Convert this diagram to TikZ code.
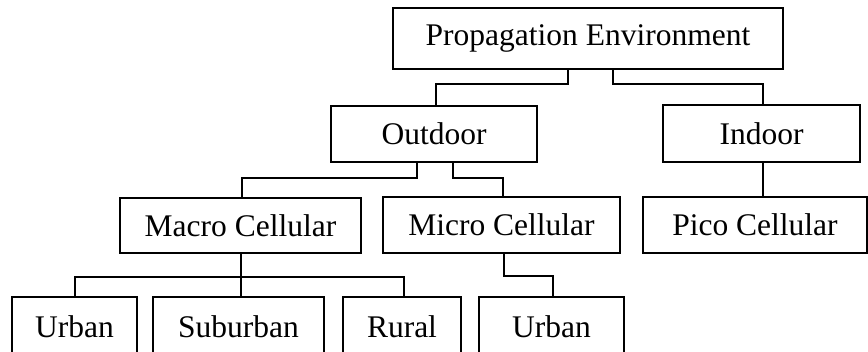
\documentclass[tikz,border=0pt]{standalone}
\usepackage{fontspec}
\setmainfont{Liberation Serif}
\begin{document}
\begin{tikzpicture}[x=1pt,y=-1pt,
  box/.style={draw, line width=1.7pt, inner sep=0pt, font=\fontsize{31.5}{36}\selectfont},
  link/.style={line width=1.6pt}]
\clip (0,0) rectangle (868,351);
% level 0
\node[box, minimum width=390, minimum height=61] (top) at (588,38.5) {Propagation Environment};
% level 1
\node[box, minimum width=206, minimum height=56] (out) at (434,134) {Outdoor};
\node[box, minimum width=197, minimum height=57] (in) at (761.5,133.5) {Indoor};
% level 2
\node[box, minimum width=241, minimum height=55] (macro) at (240.5,225.5) {Macro Cellular};
\node[box, minimum width=237, minimum height=56] (micro) at (501.5,225) {Micro Cellular};
\node[box, minimum width=224, minimum height=56] (pico) at (755,225) {Pico Cellular};
% level 3
\node[box, minimum width=125, minimum height=60] (urbA) at (74.5,327) {Urban};
\node[box, minimum width=171, minimum height=60] (sub) at (238.5,327) {Suburban};
\node[box, minimum width=118, minimum height=60] (rur) at (402,327) {Rural};
\node[box, minimum width=145, minimum height=60] (urbB) at (551.5,327) {Urban};
% connectors
\draw[link] ([xshift=-20pt]top.south) -- ++(0,14) -| ([xshift=2pt]out.north);
\draw[link] ([xshift=25pt]top.south) -- ++(0,14) -| ([xshift=1.5pt]in.north);
\draw[link] ([xshift=1.5pt]in.south) -- ([xshift=1.5pt]in.south |- pico.north);
\draw[link] ([xshift=-17pt]out.south) -- ++(0,15) -| ([xshift=1.5pt]macro.north);
\draw[link] ([xshift=19pt]out.south) -- ++(0,15) -| ([xshift=1.5pt]micro.north);
\coordinate (fork) at ([xshift=0.5pt,yshift=-23pt]macro.south);
\draw[link] ([xshift=0.5pt]macro.south) -- (fork) -- (fork |- sub.north);
\draw[link] ([xshift=0.5pt]urbA.north) |- (fork) -| ([xshift=2pt]rur.north);
\draw[link] ([xshift=2.5pt]micro.south) -- ++(0,22) -| ([xshift=1.5pt]urbB.north);
\end{tikzpicture}
\end{document}
